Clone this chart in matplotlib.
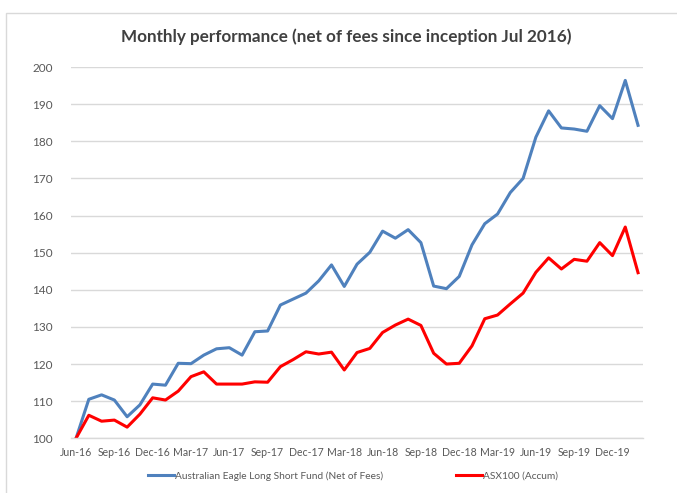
import matplotlib.pyplot as plt
from matplotlib.patches import Rectangle

plt.rcParams["font.family"] = ["Lato", "DejaVu Sans"]

MONTHS = ["Jun-16", "Jul-16", "Aug-16", "Sep-16", "Oct-16", "Nov-16", "Dec-16",
          "Jan-17", "Feb-17", "Mar-17", "Apr-17", "May-17", "Jun-17",
          "Jul-17", "Aug-17", "Sep-17", "Oct-17", "Nov-17", "Dec-17",
          "Jan-18", "Feb-18", "Mar-18", "Apr-18", "May-18", "Jun-18",
          "Jul-18", "Aug-18", "Sep-18", "Oct-18", "Nov-18", "Dec-18",
          "Jan-19", "Feb-19", "Mar-19", "Apr-19", "May-19", "Jun-19",
          "Jul-19", "Aug-19", "Sep-19", "Oct-19", "Nov-19", "Dec-19",
          "Jan-20", "Feb-20"]

fund = [100.0, 110.5, 111.7, 110.3, 105.8, 109.0, 114.6, 114.3, 120.2, 120.1,
        122.4, 124.1, 124.4, 122.4, 128.7, 128.9, 135.9, 137.5, 139.1, 142.4,
        146.7, 140.9, 146.9, 150.1, 155.8, 153.9, 156.2, 152.7, 141.0, 140.3,
        143.6, 152.1, 157.8, 160.4, 166.2, 170.0, 181.1, 188.2, 183.6, 183.3,
        182.7, 189.6, 186.1, 196.4, 184.3]

asx100 = [100.0, 106.2, 104.6, 104.9, 103.0, 106.5, 110.9, 110.3, 112.7, 116.6,
          117.9, 114.6, 114.6, 114.6, 115.2, 115.1, 119.3, 121.2, 123.3, 122.7,
          123.2, 118.4, 123.1, 124.2, 128.5, 130.5, 132.1, 130.4, 122.9, 120.0,
          120.2, 124.9, 132.2, 133.2, 136.2, 139.1, 144.7, 148.6, 145.6, 148.2,
          147.7, 152.7, 149.2, 156.9, 144.6]

TITLE = "Monthly performance (net of fees since inception Jul 2016)"
LABEL_FUND = "Australian Eagle Long Short Fund (Net of Fees)"
LABEL_ASX = "ASX100 (Accum)"

GRID = "#d9d9d9"
TEXT = "#595959"

fig = plt.figure(figsize=(6.77, 4.93), dpi=100)
ax = fig.add_axes([0.1044, 0.111, 0.8456, 0.753])

# chart-area border (Excel style)
fig.patches.append(Rectangle((6 / 677, -0.1), 1.2, 1 - 13 / 493 + 0.1,
                             transform=fig.transFigure, fill=False,
                             edgecolor=GRID, linewidth=1.0))

x = list(range(len(MONTHS)))
ax.plot(x, fund, color="#4F81BD", linewidth=2.2, label=LABEL_FUND,
        solid_joinstyle="round")
ax.plot(x, asx100, color="#FF0000", linewidth=2.2, label=LABEL_ASX,
        solid_joinstyle="round")

ax.set_xlim(-0.42, 44.4)
ax.set_ylim(100, 200)
ax.set_yticks(range(100, 201, 10))
ax.set_xticks(x[::3])
ax.set_xticklabels(MONTHS[::3])

ax.grid(True, axis="y", color=GRID, linewidth=1.0)
ax.set_axisbelow(True)
for side in ["top", "right", "left"]:
    ax.spines[side].set_visible(False)
ax.spines["bottom"].set_color(GRID)
ax.spines["bottom"].set_linewidth(1.0)
ax.tick_params(axis="both", length=0, colors=TEXT)
ax.tick_params(axis="y", pad=13, labelsize=8.5)
ax.tick_params(axis="x", pad=6, labelsize=7.6)

fig.text(0.511, 0.925, TITLE, ha="center", va="center", fontsize=12.3,
         fontweight="bold", color="#404040")

fig.legend(loc="center left", bbox_to_anchor=(0.205, 0.034), ncol=2,
           frameon=False, fontsize=7.3, handlelength=2.55, handletextpad=0.12,
           columnspacing=7.2, labelcolor=TEXT)

fig.savefig("out.png", dpi=100)
